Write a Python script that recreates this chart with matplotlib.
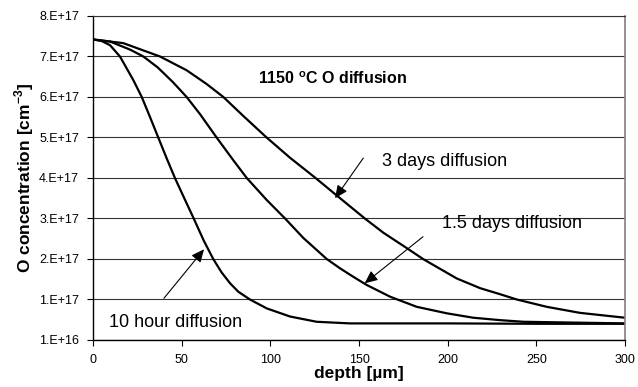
import numpy as np
import matplotlib.pyplot as plt

plt.rcParams['font.family'] = ['Liberation Sans', 'DejaVu Sans']
plt.rcParams['mathtext.fontset'] = 'custom'
plt.rcParams['mathtext.rm'] = 'Liberation Sans'
plt.rcParams['mathtext.bf'] = 'Liberation Sans:bold'

# values, concentration in units of 1e17 cm^-3
depth_10h = [0, 4.5, 9.6, 15.2, 22.7, 27.5, 32.1, 36.8, 41.6, 46.2, 51.9, 56.8, 62.5, 67.8, 72.5, 77.3,
             82, 88.5, 98, 111.1, 126.1, 144.9, 170, 200, 250, 300]
conc_10h = [7.52, 7.49, 7.38, 7.10, 6.52, 6.10, 5.61, 5.10, 4.58, 4.10, 3.56, 3.10, 2.55, 2.10, 1.77, 1.50,
            1.29, 1.10, 0.88, 0.68, 0.55, 0.51, 0.51, 0.51, 0.50, 0.50]

depth_15d = [0, 9.6, 20.9, 28.4, 36.5, 45, 52.8, 60.3, 69.7, 79.1, 86.7, 97.9, 108.3, 118.6, 131.8,
             139.3, 146.8, 154.3, 167.5, 182.5, 199.4, 214.4, 229.6, 242.7, 270.9, 300]
conc_15d = [7.52, 7.47, 7.27, 7.10, 6.83, 6.47, 6.10, 5.68, 5.10, 4.54, 4.10, 3.56, 3.10, 2.62, 2.10,
            1.87, 1.66, 1.46, 1.17, 0.92, 0.76, 0.65, 0.59, 0.55, 0.53, 0.51]

depth_3d = [0, 17.1, 37.8, 52.8, 64.1, 73.5, 84.8, 97.9, 111.1, 125.5, 137.4, 153.3, 163.7, 176.9,
            186.1, 205.1, 218.3, 229.6, 239, 255.8, 274.6, 300]
conc_3d = [7.52, 7.43, 7.10, 6.76, 6.42, 6.10, 5.63, 5.10, 4.60, 4.10, 3.67, 3.10, 2.75, 2.37,
           2.10, 1.62, 1.38, 1.23, 1.10, 0.92, 0.77, 0.65]

ytick_vals = [0.1, 1.1, 2.1, 3.1, 4.1, 5.1, 6.1, 7.1, 8.1]
ytick_labels = ["1.E+16", "1.E+17", "2.E+17", "3.E+17", "4.E+17", "5.E+17", "6.E+17", "7.E+17", "8.E+17"]
xticks = [0, 50, 100, 150, 200, 250, 300]

fig = plt.figure(figsize=(6.38, 3.87), dpi=100)
ax = fig.add_axes([93/638, 1-340/387, 532/638, 324/387])

for d, c in [(depth_10h, conc_10h), (depth_15d, conc_15d), (depth_3d, conc_3d)]:
    ax.plot(np.array(d), np.array(c) * 1e17, color='black', lw=1.6, solid_joinstyle='round')

ax.set_xlim(0, 300)
ax.set_ylim(0.1e17, 8.1e17)
ax.set_xticks(xticks)
ax.set_xticklabels([str(t) for t in xticks], fontsize=9)
ax.set_yticks([v * 1e17 for v in ytick_vals])
ax.set_yticklabels(ytick_labels, fontsize=9)
ax.tick_params(axis='both', direction='out', length=4, width=0.8, color='black')
ax.tick_params(axis='x', pad=6)
ax.tick_params(axis='y', pad=6)
ax.yaxis.grid(True, color='#333333', lw=0.8)
ax.set_axisbelow(True)
for s in ['left', 'bottom']:
    ax.spines[s].set_color('black')
    ax.spines[s].set_linewidth(1.0)
ax.spines['right'].set_color('#808080')
ax.spines['right'].set_linewidth(1.2)
ax.spines['top'].set_color('#333333')
ax.spines['top'].set_linewidth(0.8)

ax.set_xlabel("depth [µm]", fontsize=12.5, fontweight='bold', labelpad=0)
ax.set_ylabel("O concentration [cm$^{\\mathbf{-3}}$]", fontsize=12.5, fontweight='bold', labelpad=2)

ax.text(93, 6.54e17, "1150 $^{\\mathbf{o}}$C O diffusion", fontsize=11.5, fontweight='bold', va='center', ha='left')

arrow = dict(arrowstyle='-|>,head_length=0.55,head_width=0.25', color='black', lw=0.8,
             mutation_scale=14, shrinkA=0, shrinkB=0)
ax.annotate("", xy=(136.5, 3.60e17), xytext=(152.4, 4.59e17), arrowprops=arrow)
ax.text(162.8, 4.50e17, "3 days diffusion", fontsize=13, va='center', ha='left')
ax.annotate("", xy=(153.2, 1.50e17), xytext=(186.1, 2.65e17), arrowprops=arrow)
ax.text(196.8, 2.98e17, "1.5 days diffusion", fontsize=13, va='center', ha='left')
ax.annotate("", xy=(62.6, 2.34e17), xytext=(40.0, 1.13e17), arrowprops=arrow)
ax.text(9.2, 0.53e17, "10 hour diffusion", fontsize=13, va='center', ha='left')

fig.savefig("out.png", dpi=100)
